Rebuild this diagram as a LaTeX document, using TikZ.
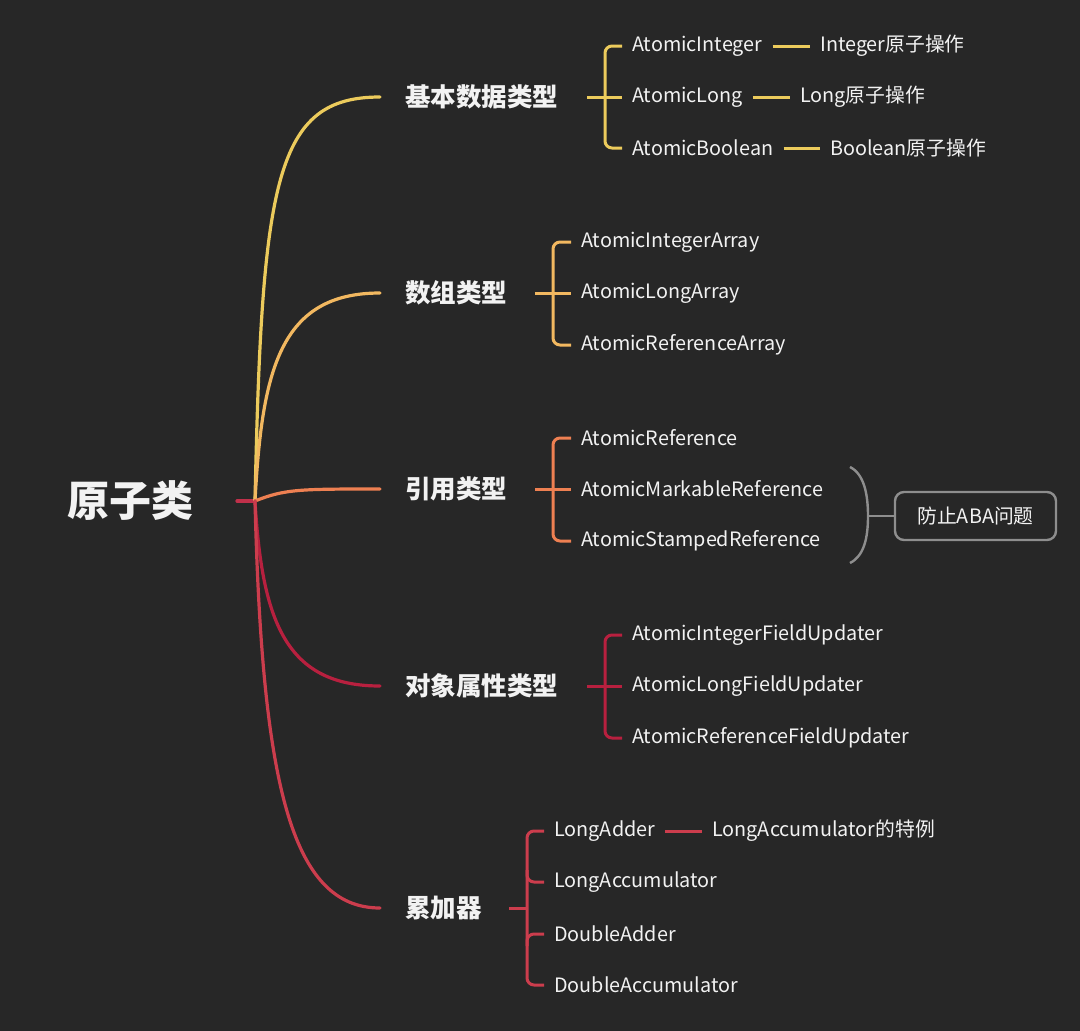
\documentclass[tikz,border=0pt]{standalone}
\usepackage{fontspec}
\setmainfont{Noto Sans CJK SC}
\usetikzlibrary{calc}
\definecolor{bg}{HTML}{272727}
\definecolor{cA}{HTML}{ECCB5C}
\definecolor{cB}{HTML}{F2B860}
\definecolor{cC}{HTML}{EE8052}
\definecolor{cD}{HTML}{B8203F}
\definecolor{cE}{HTML}{CC3D4D}
\definecolor{cR}{HTML}{C0304A}
\definecolor{gr}{HTML}{8E8E8E}
\definecolor{tx}{HTML}{F2F2F2}
\tikzset{
  rootnode/.style={text=tx, font=\fontsize{42}{46}\selectfont\bfseries, inner sep=0},
  lvlone/.style={text=tx, anchor=west, inner sep=0, font=\fontsize{25.5}{29}\selectfont\bfseries},
  lvltwo/.style={text=tx, anchor=west, inner sep=0, font=\fontsize{19.8}{23}\selectfont},
  trunk/.style={line width=3.2pt, line cap=round},
  brk/.style={line width=3pt, rounded corners=7pt},
  tie/.style={line width=3pt},
  notebox/.style={draw=gr, line width=2.4pt, rounded corners=9pt, minimum width=161pt, minimum height=48pt, text=tx, font=\fontsize{19.8}{23}\selectfont, inner sep=0}
}
\begin{document}
\begin{tikzpicture}[x=1pt,y=-1pt]
\fill[bg] (0,0) rectangle (1080,1031);
\useasboundingbox (0,0) rectangle (1080,1031);
% root
\node[rootnode] (root) at (130,501) {原子类};
\coordinate (rootend) at (237,501);
\coordinate (hub) at (255,501);
\draw[trunk, cR] (rootend) -- (hub);
% level one
\node[lvlone] (A) at (405,97) {基本数据类型};
\node[lvlone] (B) at (405,293) {数组类型};
\node[lvlone] (C) at (405,489) {引用类型};
\node[lvlone] (D) at (405,686) {对象属性类型};
\node[lvlone] (E) at (405,908) {累加器};
\coordinate (eA) at (380,97);
\coordinate (eB) at (380,293);
\coordinate (eC) at (380,489);
\coordinate (eD) at (380,686);
\coordinate (eE) at (380,908);
\draw[trunk, cA] (hub) .. controls (262,180) and (275,97) .. (eA);
\draw[trunk, cB] (hub) .. controls (262,370) and (280,293) .. (eB);
\draw[trunk, cC] (hub) .. controls (285,489) and (300,489) .. (eC);
\draw[trunk, cD] (hub) .. controls (262,620) and (285,686) .. (eD);
\draw[trunk, cE] (hub) .. controls (262,780) and (290,908) .. (eE);
% group A
\node[lvltwo] (a1) at (632,46) {AtomicInteger};
\node[lvltwo] (a2) at (632,97) {AtomicLong};
\node[lvltwo] (a3) at (632,148) {AtomicBoolean};
\node[lvltwo] (a1x) at (820,46) {Integer原子操作};
\node[lvltwo] (a2x) at (800,97) {Long原子操作};
\node[lvltwo] (a3x) at (830,148) {Boolean原子操作};
\coordinate (vA) at (605,97);
\coordinate (sA) at (587,97);
\draw[brk, cA] ([xshift=-10pt]a1.west) -| (vA) |- ([xshift=-10pt]a3.west);
\draw[tie, cA] (sA) -- ([xshift=-10pt]a2.west);
\draw[tie, cA] ([xshift=10pt]a1.east) -- ([xshift=-10pt]a1x.west);
\draw[tie, cA] ([xshift=10pt]a2.east) -- ([xshift=-10pt]a2x.west);
\draw[tie, cA] ([xshift=10pt]a3.east) -- ([xshift=-10pt]a3x.west);
% group B
\node[lvltwo] (b1) at (581,242) {AtomicIntegerArray};
\node[lvltwo] (b2) at (581,293) {AtomicLongArray};
\node[lvltwo] (b3) at (581,345) {AtomicReferenceArray};
\coordinate (vB) at (553,293);
\coordinate (sB) at (535,293);
\draw[brk, cB] ([xshift=-10pt]b1.west) -| (vB) |- ([xshift=-10pt]b3.west);
\draw[tie, cB] (sB) -- ([xshift=-10pt]b2.west);
% group C
\node[lvltwo] (c1) at (581,438) {AtomicReference};
\node[lvltwo] (c2) at (581,489) {AtomicMarkableReference};
\node[lvltwo] (c3) at (581,541) {AtomicStampedReference};
\coordinate (vC) at (553,489);
\coordinate (sC) at (535,489);
\draw[brk, cC] ([xshift=-10pt]c1.west) -| (vC) |- ([xshift=-10pt]c3.west);
\draw[tie, cC] (sC) -- ([xshift=-10pt]c2.west);
\coordinate (pt) at (850,467);
\coordinate (pm) at (868,516);
\coordinate (pb) at (850,563);
\node[notebox] (aba) at (975.5,516) {防止ABA问题};
\draw[line width=2.4pt, gr] (pt) .. controls (864,474) and (868,494) .. (pm) .. controls (868,538) and (864,556) .. (pb);
\draw[line width=2.4pt, gr] (pm) -- (aba.west);
% group D
\node[lvltwo] (d1) at (632,635) {AtomicIntegerFieldUpdater};
\node[lvltwo] (d2) at (632,686) {AtomicLongFieldUpdater};
\node[lvltwo] (d3) at (632,738) {AtomicReferenceFieldUpdater};
\coordinate (vD) at (605,686);
\coordinate (sD) at (587,686);
\draw[brk, cD] ([xshift=-10pt]d1.west) -| (vD) |- ([xshift=-10pt]d3.west);
\draw[tie, cD] (sD) -- ([xshift=-10pt]d2.west);
% group E
\node[lvltwo] (e1) at (554,831) {LongAdder};
\node[lvltwo] (e2) at (554,882) {LongAccumulator};
\node[lvltwo] (e3) at (554,934) {DoubleAdder};
\node[lvltwo] (e4) at (554,985) {DoubleAccumulator};
\node[lvltwo] (e1x) at (712,831) {LongAccumulator的特例};
\coordinate (vE) at (527,908);
\coordinate (sE) at (509,908);
\draw[brk, cE] ([xshift=-10pt]e1.west) -| (vE) |- ([xshift=-10pt]e4.west);
\draw[tie, cE] (sE) -- (vE);
\draw[brk, cE] (527,870) |- ([xshift=-10pt]e2.west);
\draw[brk, cE] (527,946) |- ([xshift=-10pt]e3.west);
\draw[tie, cE] ([xshift=10pt]e1.east) -- ([xshift=-10pt]e1x.west);
\end{tikzpicture}
\end{document}
